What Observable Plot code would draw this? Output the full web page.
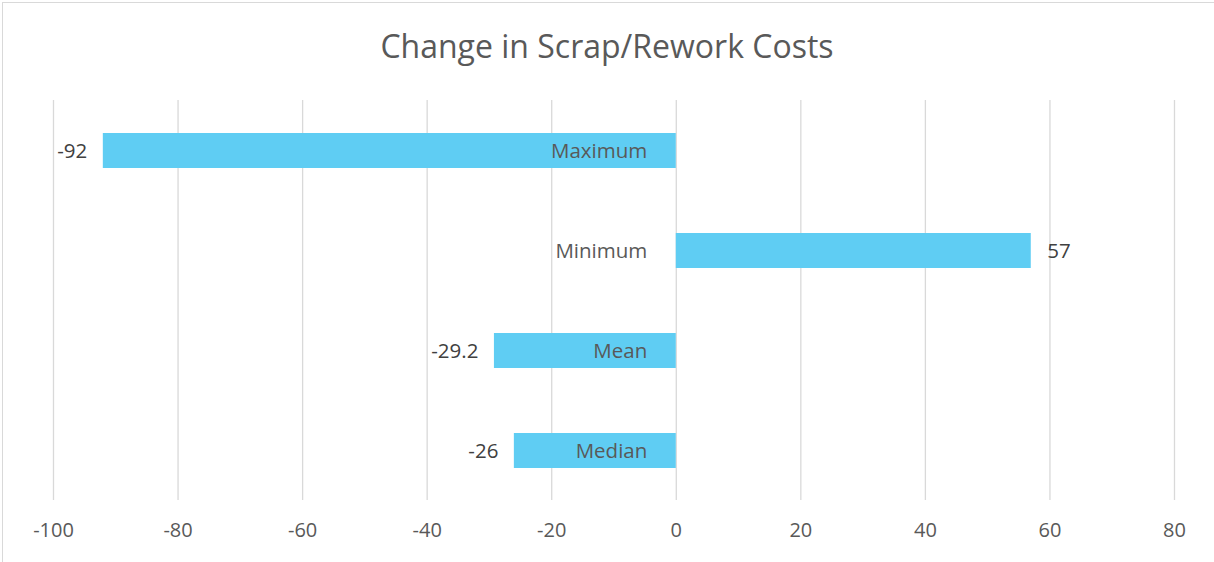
<!DOCTYPE html>
<html>
<head>
<meta charset="utf-8">
<script src="https://cdn.jsdelivr.net/npm/d3@7"></script>
<script src="https://cdn.jsdelivr.net/npm/@observablehq/plot@0.6"></script>
<style>
  html, body { margin: 0; padding: 0; background: #fff; overflow: hidden; width: 1214px; height: 562px; }
  #frame { position: absolute; left: 2px; top: 2px; width: 1240px; height: 600px; border: 1px solid #d9d9d9; box-sizing: border-box; }
  #title { position: absolute; left: 0; top: 0; width: 1214px; height: 80px; text-align: center; line-height: 92px;
           font-family: "Open Sans", sans-serif; font-size: 32px; color: #595959; }
  #chart { position: absolute; left: 0; top: 80px; }
  #chart text { font-family: "Open Sans", sans-serif; }
</style>
</head>
<body>
<div id="frame"></div>
<div id="title">Change in Scrap/Rework Costs</div>
<div id="chart"></div>
<script>
const categories = ["Maximum", "Minimum", "Mean", "Median"];
const values = [-92, 57, -29.2, -26];
const xTicks = [-100, -80, -60, -40, -20, 0, 20, 40, 60, 80];

const data = categories.map((c, i) => ({category: c, value: values[i]}));
const neg = data.filter(d => d.value < 0);
const pos = data.filter(d => d.value >= 0);

const chart = Plot.plot({
  width: 1214,
  height: 482,
  marginLeft: 53,
  marginRight: 40,
  marginTop: 20,
  marginBottom: 62,
  style: {fontFamily: "Open Sans, sans-serif", fontSize: "20px", color: "#595959", background: "transparent"},
  x: {domain: [-100, 80], ticks: xTicks, label: null},
  y: {domain: categories, paddingInner: 0.65, paddingOuter: 0.325, label: null, axis: null},
  marks: [
    Plot.gridX(xTicks, {stroke: "#d9d9d9", strokeOpacity: 1, strokeWidth: 1.3}),
    Plot.axisX({ticks: xTicks, tickSize: 0, tickPadding: 22, tickFormat: d => String(d), fill: "#595959", fontSize: 20, label: null}),
    Plot.barX(data, {x: "value", y: "category", fill: "#5fcdf3"}),
    Plot.text(data, {x: 0, y: "category", text: "category", textAnchor: "end", dx: -29, fill: "#595959", fontSize: 20.5}),
    Plot.text(neg, {x: "value", y: "category", text: d => String(d.value), textAnchor: "end", dx: -16, fill: "#404040", fontSize: 20.5}),
    Plot.text(pos, {x: "value", y: "category", text: d => String(d.value), textAnchor: "start", dx: 16, fill: "#404040", fontSize: 20.5})
  ]
});
document.getElementById("chart").appendChild(chart);
</script>
</body>
</html>
